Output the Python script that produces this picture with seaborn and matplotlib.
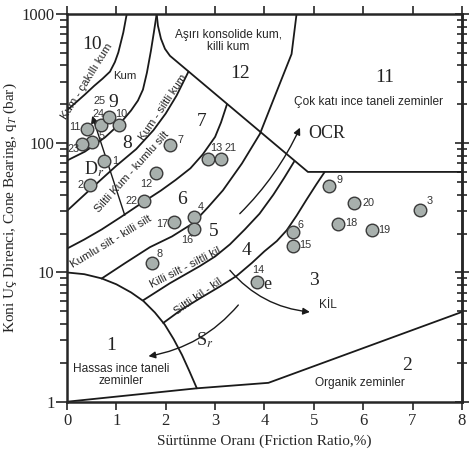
import numpy as np
import pandas as pd
import matplotlib
matplotlib.use("Agg")
import matplotlib.pyplot as plt
import seaborn as sns

# CPT test points: friction ratio (%) and cone bearing qT (bar)
point_id = list(range(1, 26))
friction_ratio = [0.74, 0.47, 7.16, 2.58, 0.51, 4.57, 2.09, 1.73, 5.31, 1.06,
                  0.40, 1.80, 2.86, 3.85, 4.57, 2.57, 2.17, 5.49, 6.17, 5.81,
                  3.12, 1.55, 0.30, 0.68, 0.86]
cone_bearing = [73.5, 47.7, 30.6, 27.0, 103, 20.5, 97.7, 11.8, 46.3, 139,
                129, 58.7, 76.2, 8.45, 15.9, 21.8, 24.5, 23.6, 21.2, 34.7,
                75.2, 35.5, 98.9, 139, 161]

# zone boundaries (Robertson 1986)
b_10_9_x = [0, 0.2, 0.36, 0.55, 0.72, 0.87, 0.97, 1.04, 1.14, 1.21]
b_10_9_y = [180, 210, 238, 278, 316, 358, 425, 505, 719, 1000]
b_9_8_x = [0, 0.364, 0.769, 1.073, 1.296, 1.437, 1.538, 1.619, 1.70, 1.761, 1.816]
b_9_8_y = [73.5, 86.2, 111, 142, 179, 214, 260, 352, 520, 728, 1000]
b_8_7_x = [0, 0.5, 1.0, 1.4, 1.75, 2.0, 2.22, 2.46]
b_8_7_y = [30, 45, 67, 90, 126, 170, 234, 358]
b_7_6_x = [0, 0.35, 0.7, 1.1, 1.54, 1.9, 2.2, 2.5, 2.75, 3.0, 3.12, 3.24]
b_7_6_y = [15.3, 18, 21.5, 27, 35, 43, 52, 64, 82, 112, 145, 200]
b_6_5_x = [0.70, 1.174, 1.68, 2.126, 2.551, 2.854, 3.158, 3.543, 3.907, 4.23, 4.549, 4.65]
b_6_5_y = [8.97, 11.8, 15.7, 19.0, 24.0, 31.9, 43.2, 69.7, 118, 242, 490, 1000]
b_5_4_x = [1.545, 2.085, 2.69, 3.0, 3.3, 3.6, 3.9, 4.18, 4.4, 4.6]
b_5_4_y = [6.1, 8.26, 11.2, 13.3, 16.5, 21.5, 28.5, 40, 54, 72]
b_4_3_x = [1.95, 2.3, 2.69, 3.1, 3.435, 3.75, 4.0, 4.25, 4.45, 4.65, 4.85, 5.05, 5.22]
b_4_3_y = [4.07, 5.1, 6.3, 7.8, 9.4, 11.9, 14.6, 17.5, 21.2, 27.5, 36.5, 48, 60]
b_12_x = [1.816, 1.842, 1.903, 1.984, 2.085, 4.88, 8]
b_12_y = [1000, 811, 644, 538, 475, 60, 60]
b_1_x = [0, 0.35, 0.7, 1.0, 1.3, 1.55, 1.78, 1.98, 2.16, 2.33, 2.48, 2.63]
b_1_y = [10, 9.7, 9.0, 8.1, 7.0, 6.0, 4.9, 3.95, 3.05, 2.3, 1.72, 1.27]
b_2_x = [0, 2.63, 4.08, 8]
b_2_y = [1, 1.27, 1.40, 4.95]

# label offsets in pixels (dx, dy) for the point numbers
lab_off = {1: (12, 0), 2: (-10, 0), 3: (9, 9), 4: (6, 10), 5: (9, 6),
           6: (8, 7), 7: (10, 5), 8: (7, 9), 9: (10, 6), 10: (2, 11),
           11: (-12, 2), 12: (-10, -11), 13: (8, 11), 14: (1, 12),
           15: (13, 1), 16: (-7, -11), 17: (-12, -2), 18: (13, 1),
           19: (13, 0), 20: (15, 0), 21: (10, 11), 22: (-12, 0),
           23: (-8, -5), 24: (-2, 11), 25: (-10, 16)}

sns.set_style("ticks")
plt.rcParams['font.family'] = ['Liberation Serif', 'DejaVu Serif']
plt.rcParams['mathtext.fontset'] = 'stix'
SANS = ['Liberation Sans', 'DejaVu Sans']
fs_txt = 8.6

fig = plt.figure(figsize=(4.69, 4.61), dpi=100)
ax = fig.add_axes([0.1429, 0.1286, 0.842, 0.841])

lw = 1.3
for bx, by in [(b_10_9_x, b_10_9_y), (b_9_8_x, b_9_8_y), (b_8_7_x, b_8_7_y),
               (b_7_6_x, b_7_6_y), (b_6_5_x, b_6_5_y), (b_5_4_x, b_5_4_y),
               (b_4_3_x, b_4_3_y), (b_12_x, b_12_y), (b_1_x, b_1_y),
               (b_2_x, b_2_y)]:
    ax.plot(bx, by, color='#1a1a1a', lw=lw, solid_joinstyle='round', zorder=2)

df = pd.DataFrame({'id': point_id, 'rf': friction_ratio, 'qt': cone_bearing})
sns.scatterplot(data=df, x='rf', y='qt', s=82, color='#a8b0ad',
                edgecolor='#3a3a3a', linewidth=1.0, ax=ax, zorder=4)
for i, r, q in zip(df['id'], df['rf'], df['qt']):
    dx, dy = lab_off[i]
    ax.annotate(str(i), (r, q), xytext=(dx, dy), textcoords='offset pixels',
                ha='center', va='center', fontsize=7.8, family=SANS,
                color='#333333', zorder=5)

# zone numbers
zone_nums = [('10', 0.5, 585), ('9', 0.93, 207), ('8', 1.22, 100), ('7', 2.72, 148),
             ('6', 2.32, 37), ('5', 2.97, 20.6), ('4', 3.64, 14.8), ('3', 5.0, 8.7),
             ('2', 6.88, 1.92), ('1', 0.9, 2.74), ('12', 3.5, 344), ('11', 6.44, 322)]
for t, x, y in zone_nums:
    ax.text(x, y, t, fontsize=14, ha='center', va='center', color='#222222')

# zone descriptions
ax.text(3.27, 620, 'Aşırı konsolide kum,\nkilli kum', family=SANS, fontsize=fs_txt,
        ha='center', va='center', linespacing=1.0)
ax.text(6.1, 207, 'Çok katı ince taneli zeminler', family=SANS, fontsize=fs_txt,
        ha='center', va='center')
ax.text(1.1, 1.61, 'Hassas ince taneli\nzeminler', family=SANS, fontsize=fs_txt,
        ha='center', va='center', linespacing=1.05)
ax.text(5.93, 1.39, 'Organik zeminler', family=SANS, fontsize=fs_txt,
        ha='center', va='center')
rot_texts = [('Kum - çakıllı kum', 0.40, 300, 58), ('Kum', 1.18, 333, 0),
             ('Kum - siltli kum', 1.95, 190, 56), ('Siltli Kum - kumlu silt', 1.31, 60, 48),
             ('Kumlu silt - killi silt', 0.9, 17.2, 31), ('Killi silt - siltli kil', 2.39, 11, 27),
             ('Siltli kil - kil', 2.65, 6.5, 35)]
for t, x, y, rot in rot_texts:
    ax.text(x, y, t, family=SANS, fontsize=8.2, rotation=rot,
            ha='center', va='center', rotation_mode='anchor')
ax.text(5.29, 5.6, 'KİL', family=SANS, fontsize=fs_txt, ha='center', va='center')

# arrows
ap = dict(arrowstyle='-|>', color='#1a1a1a', lw=1.0, mutation_scale=10,
          shrinkA=0, shrinkB=0)
ax.annotate('', xy=(0.51, 163), xytext=(1.17, 27.7), arrowprops=ap)
ax.annotate('', xy=(4.72, 132), xytext=(3.50, 28.5),
            arrowprops=dict(ap, connectionstyle='arc3,rad=0.09'))
ax.annotate('', xy=(1.65, 2.25), xytext=(3.47, 5.6),
            arrowprops=dict(ap, connectionstyle='arc3,rad=-0.18'))
ax.annotate('', xy=(4.92, 4.95), xytext=(3.30, 10.4),
            arrowprops=dict(ap, connectionstyle='arc3,rad=0.2'))
ax.text(0.55, 63, 'D$_r$', fontsize=13, ha='center', va='center')
ax.text(5.26, 118, 'OCR', fontsize=13, ha='center', va='center')
ax.text(2.78, 3.0, 'S$_r$', fontsize=13, ha='center', va='center')
ax.text(4.05, 8.1, 'e', fontsize=13, ha='center', va='center')

ax.set_yscale('log')
ax.set_xlim(0, 8)
ax.set_ylim(1, 1000)
ax.set_xticks(range(0, 9))
ax.set_yticks([1, 10, 100, 1000])
ax.set_yticklabels(['1', '10', '100', '1000'])
ax.yaxis.set_minor_locator(matplotlib.ticker.LogLocator(base=10, subs=np.arange(2, 10)))
ax.yaxis.set_minor_formatter(matplotlib.ticker.NullFormatter())
ax.tick_params(axis='x', which='major', direction='out', length=6, width=1.2,
               top=True, labelsize=12, pad=2)
ax.tick_params(axis='y', which='major', direction='out', length=8, width=1.2,
               labelsize=12, pad=1)
ax.tick_params(axis='y', which='minor', direction='out', length=5, width=1.2)
sec = ax.secondary_yaxis('right')
sec.tick_params(which='major', direction='inout', length=10, width=1.2, labelright=False)
sec.tick_params(which='minor', direction='inout', length=7, width=1.2)
sec.spines['right'].set_linewidth(1.8)
for s in ax.spines.values():
    s.set_linewidth(1.8)
    s.set_visible(True)

ax.set_xlabel('Sürtünme Oranı (Friction Ratio,%)', fontsize=11, labelpad=4)
ax.set_ylabel('Koni Uç Direnci, Cone Bearing, q$_T$ (bar)', fontsize=11, labelpad=2)

fig.savefig('out.png', dpi=100)
